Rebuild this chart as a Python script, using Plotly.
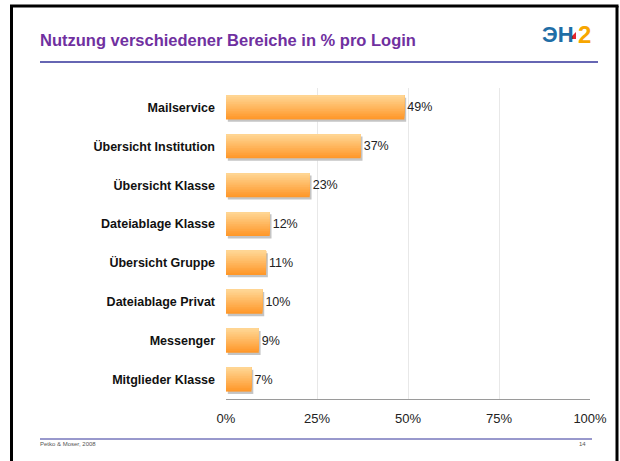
import plotly.graph_objects as go

categories = ["Mailservice", "Übersicht Institution", "Übersicht Klasse", "Dateiablage Klasse",
              "Übersicht Gruppe", "Dateiablage Privat", "Messenger", "Mitglieder Klasse"]
values = [49, 37, 23, 12, 11, 10, 9, 7]
labels = ["49%", "37%", "23%", "12%", "11%", "10%", "9%", "7%"]
tick_vals = [0, 25, 50, 75, 100]
tick_text = ["0%", "25%", "50%", "75%", "100%"]

W, H = 620, 461


def px(x):
    return x / W


def py(y):
    return 1 - y / H


def mix(c1, c2, t):
    a = [int(c1[i:i + 2], 16) for i in (1, 3, 5)]
    b = [int(c2[i:i + 2], 16) for i in (1, 3, 5)]
    return "rgb(%d,%d,%d)" % tuple(round(a[i] + (b[i] - a[i]) * t) for i in range(3))


fig = go.Figure()

bw = 0.62
# soft shadow behind bars
fig.add_trace(go.Bar(
    x=values, y=categories, orientation="h", base=0.5,
    width=bw, offset=-bw / 2 + 0.06,
    marker=dict(color="#c4c4c4", line=dict(width=0)),
    hoverinfo="skip", showlegend=False
))

# vertical gradient: dark bottom first, lighter narrower strips on top
n = 14
top_col, bot_col = "#ffd592", "#ff982a"
for k in range(n):
    t = k / (n - 1)
    fig.add_trace(go.Bar(
        x=values, y=categories, orientation="h",
        width=bw * (1 - k / n), offset=-bw / 2,
        marker=dict(color=mix(bot_col, top_col, t), line=dict(width=0)),
        hoverinfo="skip", showlegend=False
    ))

# invisible bar only for the value labels
fig.add_trace(go.Bar(
    x=values, y=categories, orientation="h",
    width=bw, offset=-bw / 2,
    marker=dict(color="rgba(0,0,0,0)", line=dict(width=0)),
    text=labels, textposition="outside", cliponaxis=False,
    textfont=dict(family="Liberation Sans, Arial", size=12.5, color="#222222"),
    hoverinfo="skip", showlegend=False
))

fig.update_layout(
    width=W, height=H, autosize=False,
    margin=dict(l=0, r=0, t=0, b=0),
    paper_bgcolor="white", plot_bgcolor="white",
    barmode="overlay", bargap=0.38,
    font=dict(family="Liberation Sans, Arial", color="#222222"),
    xaxis=dict(
        domain=[px(226), px(590)], range=[0, 100],
        tickvals=tick_vals, ticktext=tick_text,
        tickfont=dict(size=13, color="#222222"),
        ticklabelstandoff=7,
        showgrid=True, gridcolor="#e8e8e8", gridwidth=1,
        showline=True, linecolor="#9a9a9a", linewidth=1,
        ticks="", zeroline=False, fixedrange=True, automargin=False,
    ),
    yaxis=dict(
        domain=[py(399), py(88)],
        autorange="reversed",
        tickfont=dict(size=12.5, color="#111111", family="Liberation Sans, Arial"),
        ticks="", ticklabelstandoff=10,
        showgrid=False, showline=False, fixedrange=True, automargin=False,
    ),
)

fig.update_yaxes(ticktext=["<b>%s</b>" % c for c in categories], tickvals=categories)

shapes = [
    # slide frame
    dict(type="line", x0=px(11.5), x1=px(11.5), y0=py(6), y1=py(461), line=dict(color="black", width=3)),
    dict(type="line", x0=px(10), x1=px(618.5), y0=py(6), y1=py(6), line=dict(color="black", width=3)),
    dict(type="line", x0=px(617), x1=px(617), y0=py(6), y1=py(461), line=dict(color="black", width=3)),
    # title rule and footer rule
    dict(type="line", x0=px(40), x1=px(598), y0=py(62), y1=py(62), line=dict(color="#33339a", width=1.5)),
    dict(type="line", x0=px(40), x1=px(592), y0=py(439), y1=py(439), line=dict(color="#33339a", width=1)),
    # logo red wedge
    dict(type="path", path="M %f %f L %f %f L %f %f Z" % (px(569), py(39), px(576), py(32), px(576), py(39)),
         fillcolor="#e3262b", line=dict(width=0)),
]
for s in shapes:
    s.update(xref="paper", yref="paper")
fig.update_layout(shapes=shapes)

annotations = [
    dict(x=px(38), y=py(40), text="<b>Nutzung verschiedener Bereiche in % pro Login</b>",
         xanchor="left", yanchor="middle", showarrow=False,
         font=dict(size=16.5, color="#7030a0", family="Liberation Sans, Arial")),
    dict(x=px(540), y=py(35), text="<b>ЭН</b>", xanchor="left", yanchor="middle", showarrow=False,
         font=dict(size=22, color="#1f6ea6", family="Liberation Sans, Arial")),
    dict(x=px(576), y=py(35), text="<b>2</b>", xanchor="left", yanchor="middle", showarrow=False,
         font=dict(size=24, color="#f7a600", family="Liberation Sans, Arial")),
    dict(x=px(38), y=py(444), text="Petko &amp; Moser, 2008", xanchor="left", yanchor="middle", showarrow=False,
         font=dict(size=6, color="#555555")),
    dict(x=px(588), y=py(444), text="14", xanchor="right", yanchor="middle", showarrow=False,
         font=dict(size=6, color="#555555")),
]
for a in annotations:
    a.update(xref="paper", yref="paper")
fig.update_layout(annotations=annotations)

fig.write_html(
    "out.html",
    config={"responsive": False, "displayModeBar": False},
    post_script="document.body.style.margin='0';document.body.style.overflow='hidden';",
)
